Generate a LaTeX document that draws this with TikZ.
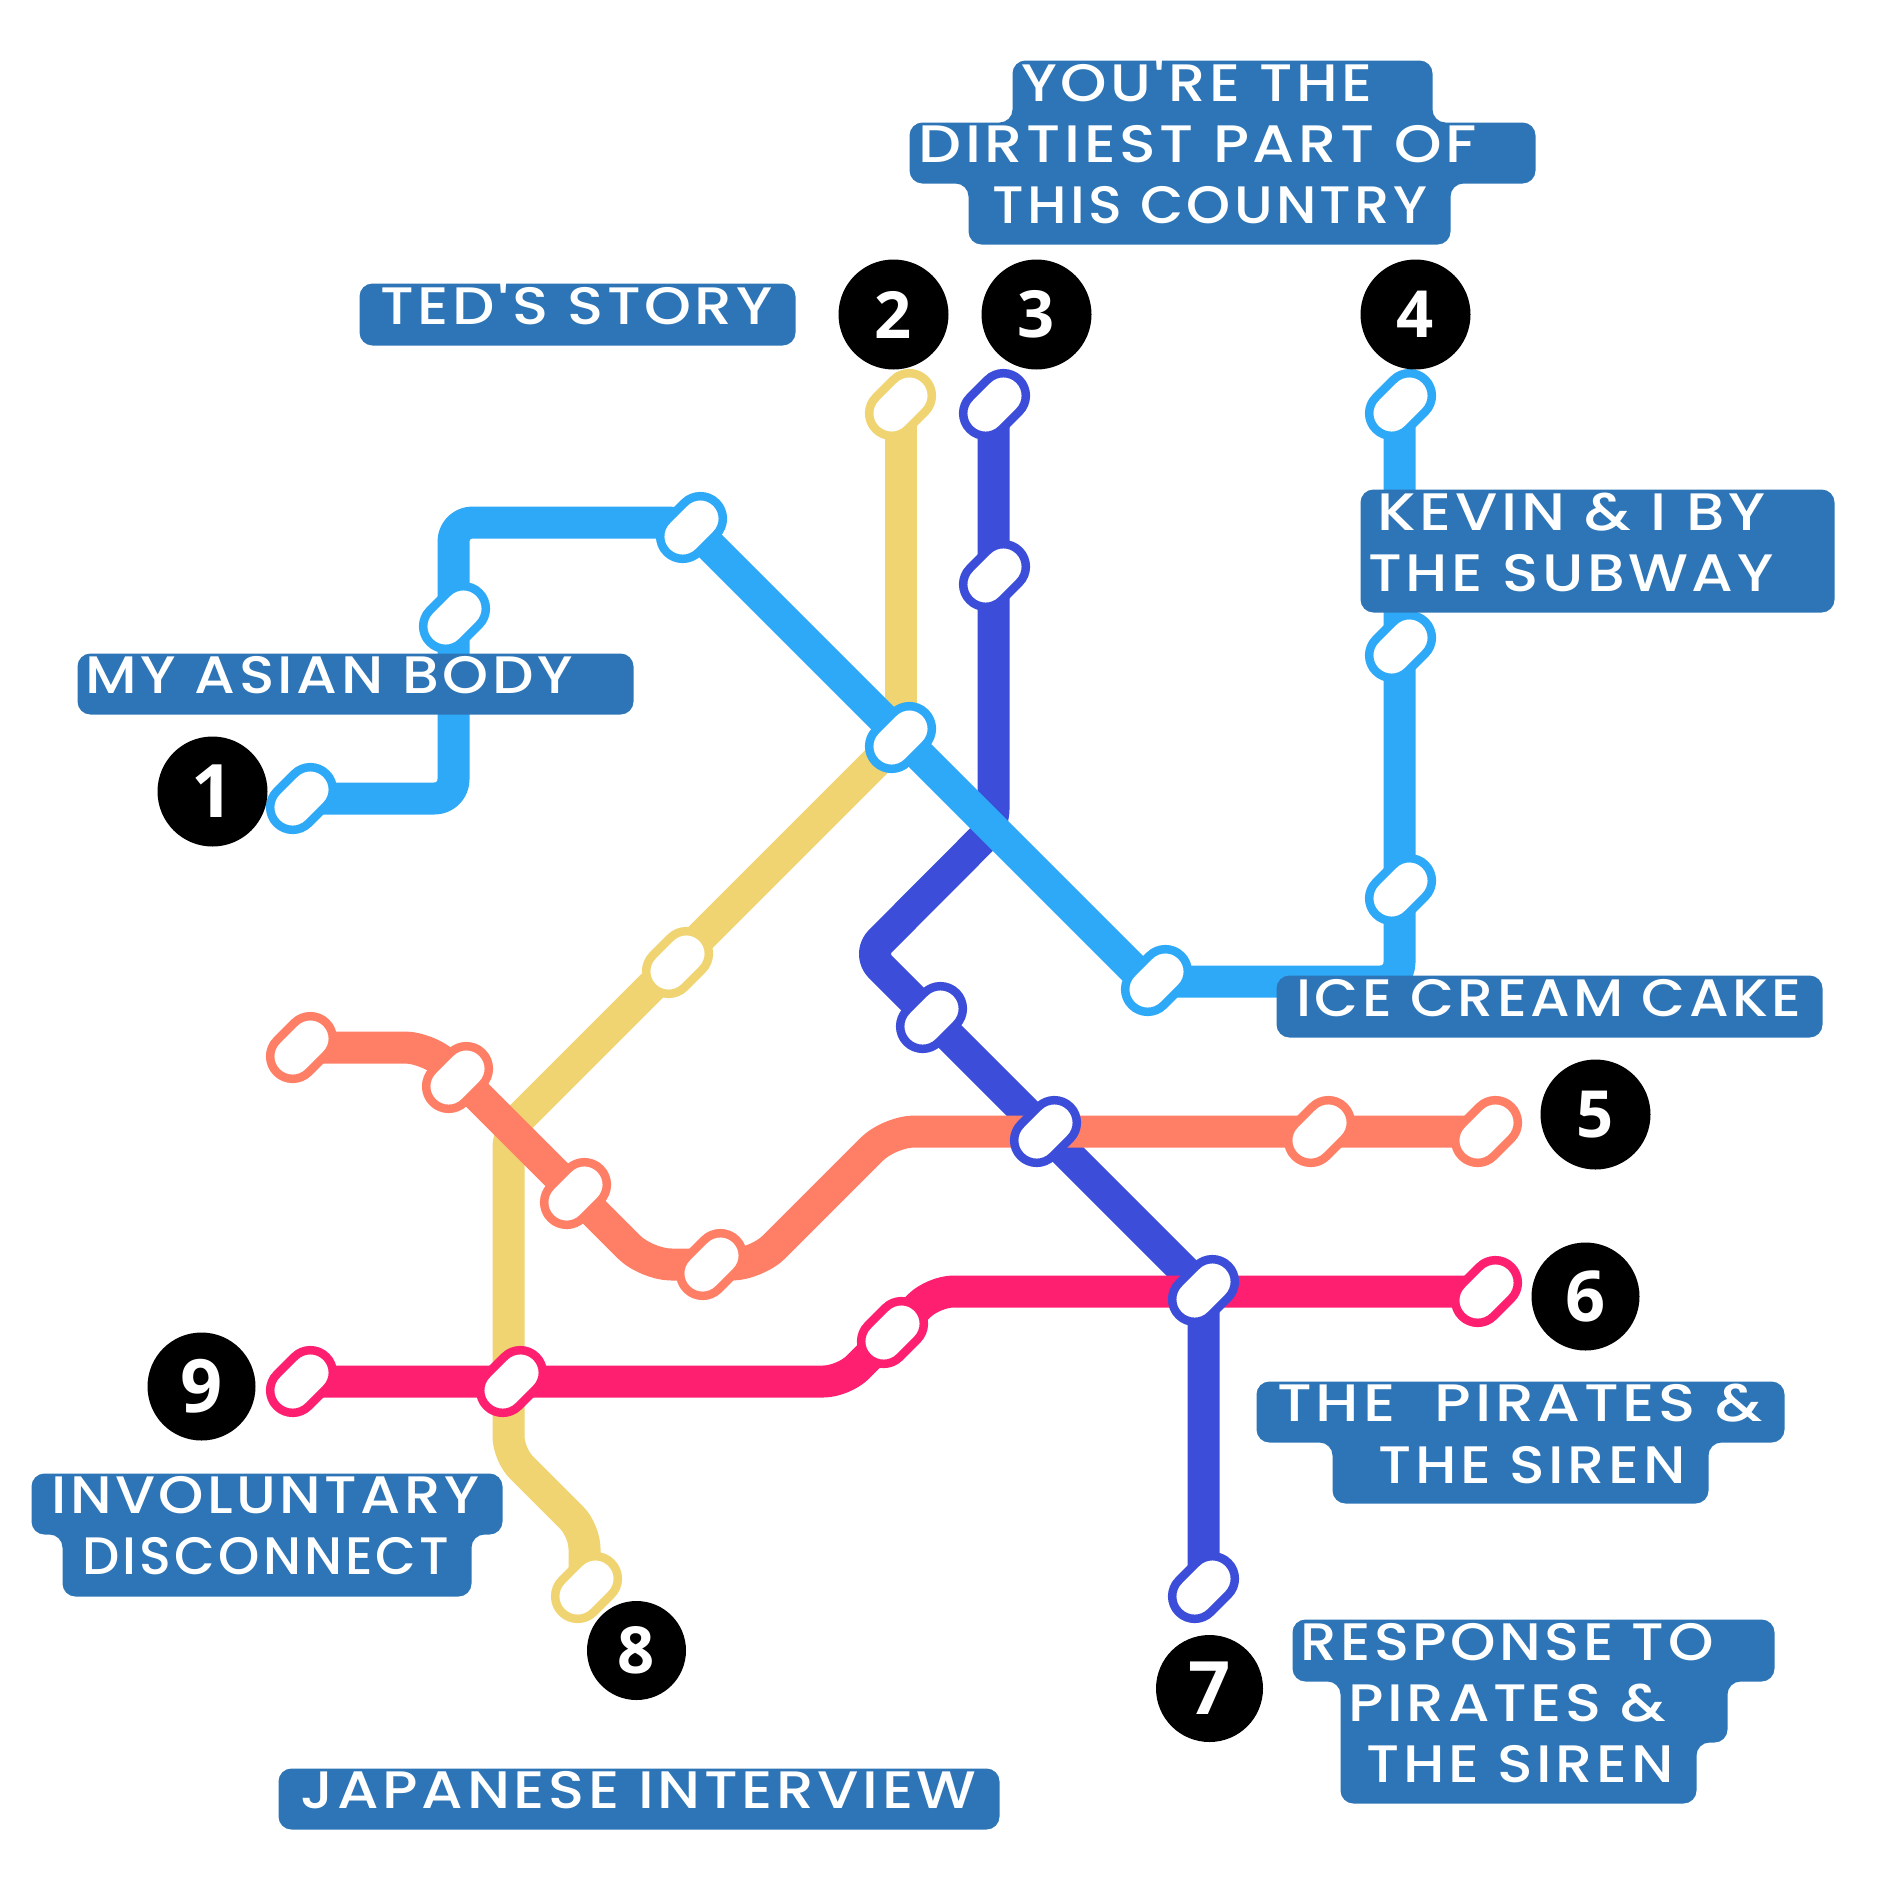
\documentclass[tikz,border=0pt]{standalone}
\usepackage{fontspec}
\usepackage{graphicx}
\usetikzlibrary{shapes.misc,backgrounds}
\newfontfamily\labelfont{Poppins Medium}[LetterSpace=6]
\newfontfamily\digitfont{Open Sans Bold}
\newdimen\pxu \pxu=0.02cm
\definecolor{lblue}{HTML}{2EA9F8}
\definecolor{lyellow}{HTML}{EFD471}
\definecolor{lindigo}{HTML}{3C4DD9}
\definecolor{lsalmon}{HTML}{FF7F66}
\definecolor{lpink}{HTML}{FF1F71}
\definecolor{lbox}{HTML}{2D75B6}
\tikzset{
  stop/.style={rounded rectangle,rotate=45,inner sep=0pt,outer sep=0pt,minimum width=1.40cm,minimum height=.90cm,line width=.17cm,fill=white,draw=#1},
  track/.style={line width=.64cm,draw=#1,line cap=butt,line join=round},
  badge/.style={circle,fill=black,text=white,inner sep=0pt,minimum size=#1*0.02cm},
  labelbox/.style={fill=lbox,rounded corners=.26cm},
  labeltext/.style={anchor=base west,inner sep=0pt,outer sep=0pt,text=white,font=\labelfont\fontsize{30}{30}\selectfont},
}
\newcommand\linetext[5]{\node[labeltext] (#1) at (#2,#3) {\resizebox{#4\pxu}{\height}{#5}};}
\begin{document}
\begin{tikzpicture}[x=0.02cm,y=-0.02cm]
\useasboundingbox (-0.5,-0.5) rectangle (1889.5,1889.5);
% stations
\node[stop=lblue] (b1) at (301,798) {};
\node[stop=lblue] (b2) at (454,617) {};
\node[stop=lblue] (b3) at (691,527) {};
\node[stop=lblue] (b4) at (900,737) {};
\node[stop=lblue] (b5) at (1156,980) {};
\node[stop=lblue] (b6) at (1400,889) {};
\node[stop=lblue] (b7) at (1400,646) {};
\node[stop=lblue] (b8) at (1400,404) {};
\node[stop=lyellow] (y1) at (900,404) {};
\node[stop=lyellow] (y2) at (677,962) {};
\node[stop=lyellow] (y3) at (586,1587) {};
\node[stop=lindigo] (i1) at (994,404) {};
\node[stop=lindigo] (i2) at (994,575) {};
\node[stop=lindigo] (i3) at (931,1017) {};
\node[stop=lindigo] (i4) at (1045,1131) {};
\node[stop=lindigo] (i5) at (1203,1290) {};
\node[stop=lindigo] (i6) at (1203,1587) {};
\node[stop=lsalmon] (s1) at (301,1047) {};
\node[stop=lsalmon] (s2) at (457,1077) {};
\node[stop=lsalmon] (s3) at (575,1193) {};
\node[stop=lsalmon] (s4) at (711,1264) {};
\node[stop=lsalmon] (s5) at (1319,1131) {};
\node[stop=lsalmon] (s6) at (1486,1131) {};
\node[stop=lpink] (p1) at (301,1381) {};
\node[stop=lpink] (p2) at (511,1381) {};
\node[stop=lpink] (p3) at (892,1332) {};
\node[stop=lpink] (p4) at (1486,1291) {};
% corners
\coordinate (bc1) at (453,798);
\coordinate (bc2) at (453,522);
\coordinate (bc3) at (686.5,522);
\coordinate (bc4) at (1145.5,981);
\coordinate (bc5) at (1399,981);
\coordinate (bc6) at (1399,404);
\coordinate (yc1) at (900,737);
\coordinate (yc2) at (508,1129);
\coordinate (yc3) at (508,1454);
\coordinate (yc4) at (584,1530);
\coordinate (yc5) at (584,1587);
\coordinate (ic1) at (993,404);
\coordinate (ic2) at (993,827);
\coordinate (ic3) at (867,953.5);
\coordinate (ic4) at (1203,1289.5);
\coordinate (sc1) at (429,1047);
\coordinate (sc2) at (646,1264);
\coordinate (sc3) at (756,1264);
\coordinate (sc4) at (889,1131);
\coordinate (pc1) at (843,1381);
\coordinate (pc2) at (933,1291);
\begin{pgfonlayer}{background}
\fill[white] (-0.5,-0.5) rectangle (1889.5,1889.5);
\draw[track=lyellow,rounded corners=.36cm] (yc1) -- (yc2) -- (yc3) -- (yc4) -- (yc5);
\draw[track=lyellow] (y1.center) -- (yc1);
\draw[track=lindigo,rounded corners=.36cm] (ic1) -- (ic2) -- (ic3) -- (ic4) -- (i6.center);
\draw[track=lpink,rounded corners=.4cm] (p1.center) -- (pc1) -- (pc2) -- (p4.center);
\draw[track=lsalmon,rounded corners=.5cm] (s1.center) -- (sc1) -- (sc2) -- (sc3) -- (sc4) -- (s6.center);
\draw[track=lblue,rounded corners=.38cm] (b1.center) -- (bc1) -- (bc2) -- (bc3) -- (bc4) -- (bc5) -- (bc6);
\end{pgfonlayer}
% number badges
\node[badge=110] (n1) at (212,791) {\digitfont\fontsize{42}{42}\selectfont 1};
\node[badge=110] (n2) at (893,314) {\digitfont\fontsize{37}{37}\selectfont 2};
\node[badge=110] (n3) at (1036,314) {\digitfont\fontsize{37}{37}\selectfont 3};
\node[badge=110] (n4) at (1415,314) {\digitfont\fontsize{37}{37}\selectfont 4};
\node[badge=110] (n5) at (1595,1114) {\digitfont\fontsize{37}{37}\selectfont 5};
\node[badge=108] (n6) at (1585,1296) {\digitfont\fontsize{40}{40}\selectfont 6};
\node[badge=107] (n7) at (1209,1688) {\digitfont\fontsize{42}{42}\selectfont 7};
\node[badge=99] (n8) at (636,1650) {\digitfont\fontsize{37}{37}\selectfont 8};
\node[badge=108] (n9) at (201,1386) {\digitfont\fontsize{42}{42}\selectfont 9};
% label plates
\path[labelbox] (1012,60) -- (1432,60) -- (1432,122) -- (1535,122) -- (1535,183) -- (1450,183) -- (1450,244) -- (968,244) -- (968,183) -- (909,183) -- (909,122) -- (1012,122) -- cycle;
\path[labelbox] (359,283) -- (795,283) -- (795,345) -- (359,345) -- cycle;
\path[labelbox] (77,653) -- (633,653) -- (633,714) -- (77,714) -- cycle;
\path[labelbox] (1360,489) -- (1834,489) -- (1834,612) -- (1360,612) -- cycle;
\path[labelbox] (1276,975) -- (1822,975) -- (1822,1037) -- (1276,1037) -- cycle;
\path[labelbox] (1256,1381) -- (1784,1381) -- (1784,1442) -- (1708,1442) -- (1708,1503) -- (1332,1503) -- (1332,1442) -- (1256,1442) -- cycle;
\path[labelbox] (1292,1619) -- (1774,1619) -- (1774,1681) -- (1727,1681) -- (1727,1742) -- (1696,1742) -- (1696,1803) -- (1340,1803) -- (1340,1681) -- (1292,1681) -- cycle;
\path[labelbox] (278,1768) -- (999,1768) -- (999,1829) -- (278,1829) -- cycle;
\path[labelbox] (31,1473) -- (502,1473) -- (502,1534) -- (471,1534) -- (471,1596) -- (62,1596) -- (62,1534) -- (31,1534) -- cycle;
% label texts
\linetext{t1a}{1021}{101}{351}{YOU'RE THE}
\linetext{t1b}{918}{162}{558}{DIRTIEST PART OF}
\linetext{t1c}{992}{223}{435}{THIS COUNTRY}
\linetext{t2}{380}{324}{392}{TED'S STORY}
\linetext{t3}{85}{693}{487}{MY ASIAN BODY}
\linetext{t4a}{1377}{530}{388}{KEVIN \& I BY}
\linetext{t4b}{1368}{591}{405}{THE SUBWAY}
\linetext{t5}{1296}{1016}{505}{ICE CREAM CAKE}
\linetext{t6a}{1277}{1421}{485}{THE\ \ PIRATES \&}
\linetext{t6b}{1378}{1483}{307}{THE SIREN}
\linetext{t7a}{1300}{1660}{413}{RESPONSE TO}
\linetext{t7b}{1348}{1721}{317}{PIRATES \&}
\linetext{t7c}{1366}{1782}{307}{THE SIREN}
\linetext{t8}{300}{1808}{676}{JAPANESE INTERVIEW}
\linetext{t9a}{51}{1513}{428}{INVOLUNTARY}
\linetext{t9b}{82}{1574}{367}{DISCONNECT}
\end{tikzpicture}
\end{document}
